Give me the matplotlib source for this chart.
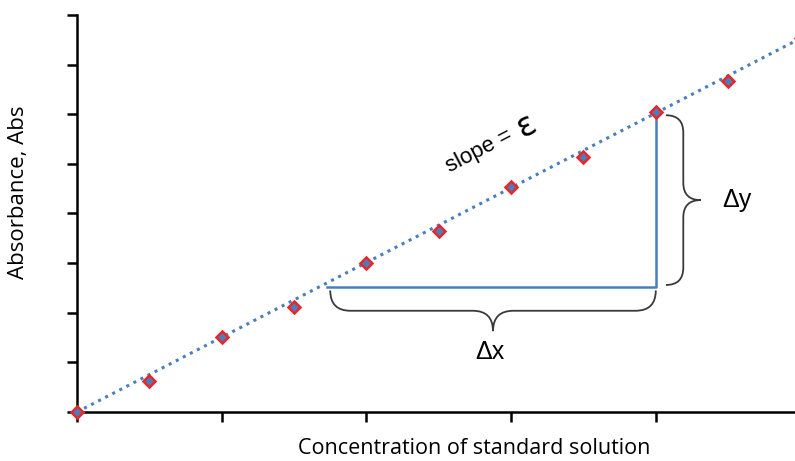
import matplotlib
matplotlib.use("Agg")
import matplotlib.pyplot as plt
from matplotlib.path import Path
from matplotlib.patches import PathPatch

# standard solution readings (arbitrary units)
conc = [0, 0.5, 1.0, 1.5, 2.0, 2.5, 3.0, 3.5, 4.0, 4.5, 5.0]
absorb = [0, 0.62, 1.51, 2.11, 3.0, 3.64, 4.53, 5.13, 6.04, 6.66, 7.53]
fit_x = [0, 5.0]
fit_y = [0, 7.53]

# slope triangle
tri_x = [1.73, 4.0, 4.0]
tri_y = [2.52, 2.52, 6.04]

line_col = "#4a7ebb"


def brace(ax, x0, y0, x1, y1, depth, r, horizontal=True):
    # curly brace built from quadratic curves, in data units
    if horizontal:
        xc = (x0 + x1) / 2.0
        ym = y0 - depth / 2.0
        yt = y0 - depth
        verts = [(x0, y0), (x0, ym), (x0 + r, ym),
                 (xc - r, ym), (xc, ym), (xc, yt),
                 (xc, ym), (xc + r, ym),
                 (x1 - r, ym), (x1, ym), (x1, y0)]
    else:
        yc = (y0 + y1) / 2.0
        xm = x0 + depth / 2.0
        xt = x0 + depth
        verts = [(x0, y0), (xm, y0), (xm, y0 - r),
                 (xm, yc + r), (xm, yc), (xt, yc),
                 (xm, yc), (xm, yc - r),
                 (xm, y1 + r), (xm, y1), (x0, y1)]
    codes = [Path.MOVETO, Path.CURVE3, Path.CURVE3,
             Path.LINETO, Path.CURVE3, Path.CURVE3,
             Path.CURVE3, Path.CURVE3,
             Path.LINETO, Path.CURVE3, Path.CURVE3]
    ax.add_patch(PathPatch(Path(verts, codes), fill=False, ec="#3a3a3a", lw=1.3,
                           clip_on=False))


fig = plt.figure(figsize=(7.95, 4.61), dpi=100)
ax = fig.add_axes([77 / 795, 49 / 461, 723.5 / 795, 397 / 461])

ax.plot(fit_x, fit_y, linestyle=(0, (1, 1.6)), color=line_col, lw=2.2, clip_on=False, zorder=2)
ax.plot(tri_x, tri_y, color=line_col, lw=1.8, zorder=2)
ax.plot(conc, absorb, linestyle="none", marker="D", ms=6, mfc=line_col, mec="#e8262b",
        mew=1.8, clip_on=False, zorder=3)

brace(ax, 1.75, 2.45, 4.0, 2.45, 0.82, 0.14, horizontal=True)
brace(ax, 4.07, 5.98, 4.07, 2.56, 0.24, 0.35, horizontal=False)

ax.text(2.85, 1.2, "Δx", fontsize=18, family="Liberation Sans", ha="center", va="center")
ax.text(4.56, 4.27, "Δy", fontsize=18, family="Liberation Sans", ha="center", va="center")
ax.text(3.0, 5.6, "slope =", fontsize=16, family="Liberation Sans", rotation=27.5,
        ha="right", va="center", rotation_mode="anchor")
ax.text(3.05, 5.7, "ε", fontsize=24, family="DejaVu Sans", rotation=27.5,
        ha="left", va="center", rotation_mode="anchor")

ax.set_xlim(0, 5)
ax.set_ylim(0, 8)
ax.set_xticks([0, 1, 2, 3, 4])
ax.set_yticks(range(0, 9))
ax.set_xticklabels([])
ax.set_yticklabels([])
ax.spines["top"].set_visible(False)
ax.spines["right"].set_visible(False)
for s in ["left", "bottom"]:
    ax.spines[s].set_linewidth(1.8)
ax.tick_params(axis="both", length=7, width=1.8, direction="out")

ax.set_ylabel("Absorbance, Abs", fontsize=16, family="Open Sans")
ax.yaxis.set_label_coords(-0.066, 0.554)
fig.text(0.597, 7 / 461, "Concentration of standard solution", fontsize=15.5,
         family="Open Sans", ha="center", va="baseline")

fig.savefig("out.png", dpi=100)
